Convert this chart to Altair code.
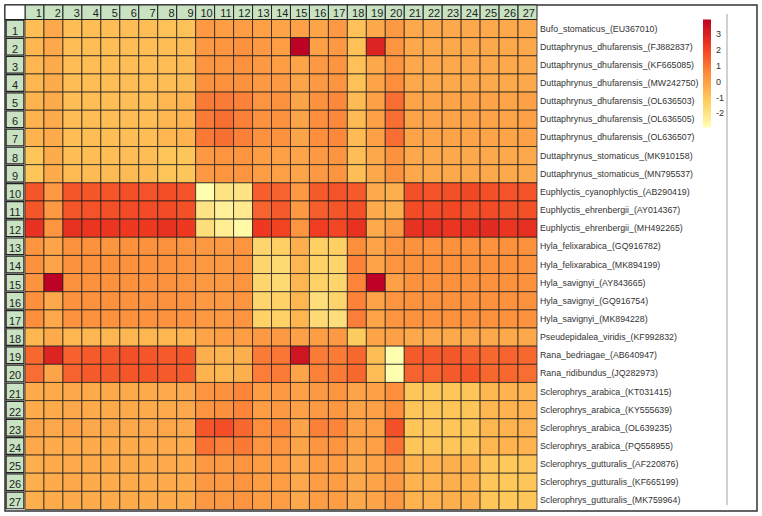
import altair as alt
import pandas as pd

col_labels = [str(i) for i in range(1, 28)]
row_labels = [str(i) for i in range(1, 28)]
species = [
    "Bufo_stomaticus_(EU367010)",
    "Duttaphrynus_dhufarensis_(FJ882837)",
    "Duttaphrynus_dhufarensis_(KF665085)",
    "Duttaphrynus_dhufarensis_(MW242750)",
    "Duttaphrynus_dhufarensis_(OL636503)",
    "Duttaphrynus_dhufarensis_(OL636505)",
    "Duttaphrynus_dhufarensis_(OL636507)",
    "Duttaphrynus_stomaticus_(MK910158)",
    "Duttaphrynus_stomaticus_(MN795537)",
    "Euphlyctis_cyanophlyctis_(AB290419)",
    "Euphlyctis_ehrenbergii_(AY014367)",
    "Euphlyctis_ehrenbergii_(MH492265)",
    "Hyla_felixarabica_(GQ916782)",
    "Hyla_felixarabica_(MK894199)",
    "Hyla_savignyi_(AY843665)",
    "Hyla_savignyi_(GQ916754)",
    "Hyla_savignyi_(MK894228)",
    "Pseudepidalea_viridis_(KF992832)",
    "Rana_bedriagae_(AB640947)",
    "Rana_ridibundus_(JQ282973)",
    "Sclerophrys_arabica_(KT031415)",
    "Sclerophrys_arabica_(KY555639)",
    "Sclerophrys_arabica_(OL639235)",
    "Sclerophrys_arabica_(PQ558955)",
    "Sclerophrys_gutturalis_(AF220876)",
    "Sclerophrys_gutturalis_(KF665199)",
    "Sclerophrys_gutturalis_(MK759964)",
]

heat_rows = [
    [-0.8, -0.2, -0.8, -0.8, -0.8, -0.8, -0.8, -0.9, -0.9, 0.2, 0.1, 0.1, 0.0, -0.1, 0.0, -0.1, 0.2, -0.9, -0.2, 0.2, -0.2, -0.2, -0.2, -0.2, -0.2, -0.2, -0.2],
    [-0.6, -0.2, -0.8, -0.8, -0.8, -0.8, -0.8, -0.8, -0.7, 0.2, 0.3, 0.4, 0.2, 0.1, 3.9, 0.0, 0.2, -0.9, 2.9, 0.3, -0.2, -0.2, -0.2, -0.2, -0.2, -0.2, -0.2],
    [-0.6, -0.3, -0.8, -0.8, -0.8, -0.8, -0.8, -0.8, -0.7, 0.3, 0.3, 0.4, 0.2, 0.1, -0.1, 0.2, 0.3, -0.9, -0.2, 0.3, -0.2, -0.2, -0.2, -0.2, -0.2, -0.2, -0.2],
    [-0.6, -0.3, -0.8, -0.8, -0.8, -0.8, -0.8, -0.8, -0.7, 0.4, 0.4, 0.4, 0.2, 0.2, -0.1, 0.2, 0.3, -0.9, -0.1, 0.5, -0.2, -0.2, -0.2, -0.2, -0.2, -0.2, -0.2],
    [-0.5, -0.3, -0.8, -0.8, -0.8, -0.8, -0.8, -0.6, -0.5, 0.9, 0.9, 0.75, 0.3, 0.4, -0.1, 0.4, 0.6, -0.7, 0.0, 1.2, -0.1, -0.1, -0.1, -0.1, -0.1, -0.1, 0.0],
    [-0.5, -0.3, -0.8, -0.8, -0.8, -0.8, -0.8, -0.6, -0.5, 0.9, 1.15, 0.8, 0.4, 0.4, -0.1, 0.5, 0.6, -0.7, 0.0, 1.2, -0.1, -0.1, -0.1, -0.1, -0.1, -0.1, 0.0],
    [-0.5, -0.3, -0.8, -0.8, -0.8, -0.8, -0.8, -0.6, -0.5, 0.95, 1.15, 0.8, 0.4, 0.4, -0.1, 0.5, 0.6, -0.7, 0.0, 1.2, -0.1, -0.1, -0.1, -0.1, -0.1, -0.1, 0.0],
    [-1.0, -0.3, -0.8, -0.8, -0.8, -0.8, -0.8, -1.0, -1.0, 0.2, 0.3, 0.3, 0.1, 0.0, -0.1, 0.2, 0.3, -0.8, -0.2, 0.4, -0.2, -0.2, -0.2, -0.2, -0.2, -0.2, -0.2],
    [-1.0, -0.3, -0.7, -0.7, -0.7, -0.7, -0.7, -1.0, -1.0, 0.2, 0.3, 0.3, 0.1, 0.0, -0.1, 0.2, 0.3, -0.8, -0.2, 0.4, -0.2, -0.2, -0.2, -0.2, -0.2, -0.2, -0.2],
    [1.7, 0.2, 1.7, 1.7, 1.7, 1.8, 1.75, 1.85, 1.75, -2.85, -1.95, -2.0, 1.5, 1.4, 0.2, 1.6, 1.75, 1.6, -0.3, -0.4, 1.8, 1.75, 1.8, 1.95, 1.8, 1.75, 1.75],
    [1.7, 0.2, 1.7, 1.75, 1.8, 1.9, 1.9, 1.9, 1.8, -2.0, -2.4, -2.2, 1.4, 1.6, 0.2, 1.5, 1.7, 1.8, -0.3, -0.4, 1.9, 1.9, 2.0, 1.8, 1.9, 1.8, 1.8],
    [2.5, 0.3, 2.5, 2.4, 2.4, 2.3, 2.3, 2.5, 2.3, -1.8, -2.3, -2.7, 2.3, 2.1, 0.3, 2.2, 2.0, 2.5, -0.3, 0.2, 2.5, 2.6, 2.4, 2.6, 2.7, 2.4, 2.6],
    [0.3, -0.1, 0.4, 0.4, 0.3, 0.4, 0.4, 0.4, 0.3, 0.2, 0.2, 0.3, -1.5, -1.3, -0.4, -1.3, -1.3, 0.5, -0.1, 0.3, 0.4, 0.35, 0.4, 0.4, 0.35, 0.4, 0.4],
    [0.4, -0.1, 0.4, 0.4, 0.4, 0.4, 0.4, 0.4, 0.3, 0.2, 0.2, 0.3, -1.5, -1.65, -0.6, -1.4, -1.5, 0.75, -0.1, 0.3, 0.4, 0.4, 0.4, 0.4, 0.4, 0.4, 0.4],
    [0.35, 3.9, 0.4, 0.4, 0.4, 0.4, 0.4, 0.4, 0.3, 0.2, 0.2, 0.3, -1.5, -1.65, -0.6, -1.4, -1.5, 0.7, 3.9, 0.0, 0.4, 0.4, 0.4, 0.4, 0.4, 0.4, 0.4],
    [0.45, -0.2, 0.4, 0.4, 0.4, 0.4, 0.4, 0.4, 0.35, 0.2, 0.2, 0.3, -1.5, -1.4, -0.6, -1.8, -1.5, 0.75, -0.1, 0.3, 0.4, 0.4, 0.4, 0.4, 0.4, 0.4, 0.4],
    [0.5, -0.2, 0.4, 0.4, 0.4, 0.4, 0.4, 0.4, 0.35, 0.2, 0.2, 0.3, -1.4, -1.4, -0.6, -1.7, -1.8, 0.85, -0.1, 0.3, 0.4, 0.4, 0.4, 0.4, 0.4, 0.4, 0.4],
    [-0.6, -0.3, -0.6, -0.6, -0.6, -0.6, -0.6, -0.6, -0.5, -0.1, 0.1, 0.1, 0.2, 0.2, 0.0, 0.1, 0.2, -1.2, -0.1, 0.0, -0.2, -0.2, -0.2, -0.2, -0.2, -0.2, -0.2],
    [1.3, 2.9, 1.45, 1.6, 1.65, 1.8, 1.7, 1.6, 1.7, -0.4, -0.5, -0.4, 0.9, 1.0, 3.35, 0.9, 0.9, 1.3, -0.8, -2.85, 1.6, 1.6, 1.65, 1.45, 1.3, 1.4, 1.3],
    [1.2, -0.1, 1.4, 1.6, 1.6, 1.7, 1.7, 1.6, 1.6, -0.5, -0.6, -0.4, 0.85, 0.9, -0.1, 0.75, 0.9, 1.3, -0.8, -2.85, 1.4, 1.4, 1.6, 1.7, 1.3, 1.3, 1.2],
    [-0.3, -0.25, -0.2, -0.25, -0.25, -0.25, -0.25, -0.25, -0.2, 0.3, 0.4, 0.7, 0.1, 0.2, 0.0, 0.2, 0.3, -0.1, 0.0, 0.5, -1.0, -1.0, -1.0, -1.0, -0.6, -0.5, -0.45],
    [-0.3, -0.25, -0.2, -0.25, -0.25, -0.25, -0.25, -0.25, -0.2, 0.3, 0.45, 0.7, 0.1, 0.2, 0.0, 0.2, 0.25, -0.1, 0.0, 0.5, -1.0, -1.0, -1.0, -1.0, -0.6, -0.5, -0.45],
    [-0.1, -0.2, -0.1, -0.2, -0.2, -0.2, -0.2, -0.15, -0.2, 1.7, 1.85, 1.3, 0.5, 0.6, -0.1, 0.8, 0.7, 0.0, 0.0, 1.8, -1.0, -1.0, -1.0, -1.0, -0.6, -0.5, -0.45],
    [-0.2, -0.3, -0.3, -0.3, -0.3, -0.3, -0.3, -0.3, -0.3, 1.1, 0.8, 0.95, 0.3, 0.3, -0.1, 0.3, 0.3, -0.1, 0.0, 1.1, -1.0, -1.0, -1.0, -1.0, -0.6, -0.5, -0.5],
    [-0.4, -0.3, -0.3, -0.3, -0.3, -0.3, -0.3, -0.3, -0.3, 0.2, 0.2, 0.3, 0.1, 0.1, -0.2, 0.1, 0.1, -0.2, -0.1, 0.2, -0.5, -0.5, -0.4, -0.5, -1.0, -1.1, -1.0],
    [-0.4, -0.3, -0.2, -0.3, -0.3, -0.3, -0.3, -0.3, -0.3, 0.2, 0.2, 0.3, 0.1, 0.1, -0.2, 0.1, 0.1, -0.2, -0.1, 0.2, -0.5, -0.5, -0.4, -0.5, -1.0, -1.1, -1.0],
    [-0.4, -0.3, -0.3, -0.3, -0.3, -0.3, -0.3, -0.3, -0.3, 0.2, 0.2, 0.3, 0.1, 0.1, -0.2, 0.1, 0.1, -0.2, -0.1, 0.2, -0.5, -0.5, -0.4, -0.5, -1.0, -1.1, -1.0],
]

color_stops = [-2.9, -1.1875, 0.525, 2.2375, 3.95]
color_range = ["#ffffb2", "#fecc5c", "#fd8d3c", "#f03b20", "#bd0026"]
legend_values = [-2, -1, 0, 1, 2, 3]

# geometry of the view (pixels) -> data units
W, H = 752, 506
GX0, GX1 = 20.0, 532.0        # grid left/right inside view
GY0, GY1 = 14.5, 504.5        # grid top/bottom inside view
UX = (GX1 - GX0) / 27.0
UY = (GY1 - GY0) / 27.0
XMIN = -GX0 / UX
XMAX = XMIN + W / UX
YMIN = -GY0 / UY
YMAX = YMIN + H / UY

xs = alt.Scale(domain=[XMIN, XMAX], nice=False, zero=False)
ys = alt.Scale(domain=[YMIN, YMAX], nice=False, zero=False, reverse=True)

cells = []
for i, row in enumerate(heat_rows):
    for j, v in enumerate(row):
        cells.append({"c0": j, "c1": j + 1, "r0": i, "r1": i + 1, "v": v,
                      "row": row_labels[i], "col": col_labels[j]})
cells = pd.DataFrame(cells)

head = pd.DataFrame({
    "c0": list(range(27)), "c1": list(range(1, 28)),
    "y0": [YMIN] * 27, "y1": [0.0] * 27,
    "label": col_labels,
    "tx": [j + 1 - 2.0 / UX for j in range(27)],
    "ty": [-0.13] * 27,
})

rowlab = pd.DataFrame({
    "x0": [XMIN + 0.06] * 27, "x1": [-0.06] * 27,
    "r0": [i + 0.04 for i in range(27)], "r1": [i + 0.96 for i in range(27)],
    "label": row_labels,
    "tx": [XMIN / 2] * 27,
    "ty": [i + 1 - 0.17 for i in range(27)],
})

corner = pd.DataFrame({"x0": [XMIN], "x1": [0.0], "y0": [YMIN], "y1": [0.0]})

spec = pd.DataFrame({"label": species,
                     "tx": [27.0 + 3.0 / UX] * 27,
                     "ty": [i + 0.5 for i in range(27)]})

GREEN = "#c8e2c2"
FONT = "Liberation Sans"

heat = alt.Chart(cells).mark_rect(stroke="#1a1a1a", strokeWidth=1, strokeOpacity=0.7).encode(
    x=alt.X("c0:Q", scale=xs, axis=None),
    x2="c1:Q",
    y=alt.Y("r0:Q", scale=ys, axis=None),
    y2="r1:Q",
    color=alt.Color(
        "v:Q",
        scale=alt.Scale(domain=color_stops, range=color_range, interpolate="rgb"),
        legend=alt.Legend(
            orient="none", legendX=698, legendY=14.5, direction="vertical",
            gradientLength=108, gradientThickness=8, values=legend_values,
            title=None, labelFontSize=9, labelFont=FONT, labelColor="#333",
            labelOffset=5, gradientStrokeWidth=0, padding=0, labelOverlap=False,
            labelExpr="'' + datum.value",
        ),
    ),
)

head_rect = alt.Chart(head).mark_rect(fill=GREEN, stroke="#222", strokeWidth=1).encode(
    x=alt.X("c0:Q", scale=xs, axis=None), x2="c1:Q",
    y=alt.Y("y0:Q", scale=ys, axis=None), y2="y1:Q",
)
head_text = alt.Chart(head).mark_text(align="right", baseline="alphabetic", fontSize=11,
                                      font=FONT, color="#222").encode(
    x=alt.X("tx:Q", scale=xs, axis=None),
    y=alt.Y("ty:Q", scale=ys, axis=None),
    text="label:N",
)

corner_rect = alt.Chart(corner).mark_rect(fill="white", stroke="#222", strokeWidth=1).encode(
    x=alt.X("x0:Q", scale=xs, axis=None), x2="x1:Q",
    y=alt.Y("y0:Q", scale=ys, axis=None), y2="y1:Q",
)

row_rect = alt.Chart(rowlab).mark_rect(fill=GREEN, stroke="#222", strokeWidth=1.2).encode(
    x=alt.X("x0:Q", scale=xs, axis=None), x2="x1:Q",
    y=alt.Y("r0:Q", scale=ys, axis=None), y2="r1:Q",
)
row_text = alt.Chart(rowlab).mark_text(align="center", baseline="alphabetic", fontSize=11,
                                       font=FONT, color="#222").encode(
    x=alt.X("tx:Q", scale=xs, axis=None),
    y=alt.Y("ty:Q", scale=ys, axis=None),
    text="label:N",
)

spec_text = alt.Chart(spec).mark_text(align="left", baseline="middle", fontSize=8.8,
                                      font=FONT, color="#333").encode(
    x=alt.X("tx:Q", scale=xs, axis=None),
    y=alt.Y("ty:Q", scale=ys, axis=None),
    text="label:N",
)

divider = alt.Chart(spec).mark_rule(color="#d0d0d0", strokeWidth=1).encode(
    x=alt.value(722), y=alt.value(9), y2=alt.value(500)
)

chart = alt.layer(
    heat, head_rect, corner_rect, row_rect, head_text, row_text, spec_text, divider
).properties(
    width=W, height=H,
    padding={"left": 5, "top": 5, "right": 5, "bottom": 5},
    autosize=alt.AutoSizeParams(type="none"),
    background="white",
).configure_view(stroke="#333", strokeWidth=1.5)

chart.save("out.html", embed_options={"renderer": "svg", "actions": False})
